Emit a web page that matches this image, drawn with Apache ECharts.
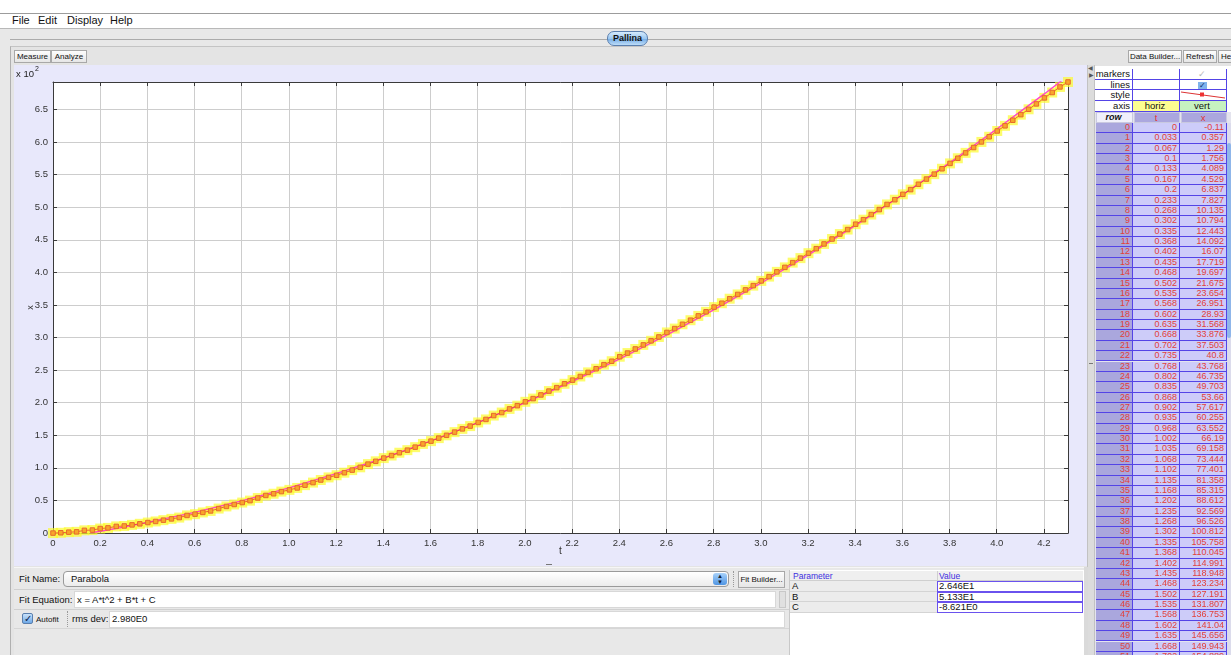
<!DOCTYPE html>
<html>
<head>
<meta charset="utf-8">
<script src="https://cdn.jsdelivr.net/npm/echarts@6/dist/echarts.min.js"></script>
<style>
body{margin:0;width:1231px;height:655px;overflow:hidden;background:#e8e8e8;font-family:"Liberation Sans",Arial,sans-serif;position:relative;color:#111}
.a{position:absolute;box-sizing:border-box}
.btn{position:absolute;box-sizing:border-box;height:13px;border:1px solid #a8a8a8;background:linear-gradient(#fdfdfd,#e6e6e6);font-size:8px;line-height:11px;text-align:center;white-space:nowrap;overflow:hidden}
.menu{position:absolute;top:14px;font-size:11px;line-height:13px}
.lbl{position:absolute;font-size:9.5px;line-height:12px;white-space:nowrap}
.cell{position:absolute;box-sizing:border-box;height:100%;top:0;font-size:9px;text-align:right;padding-right:2px;white-space:nowrap;overflow:hidden}
</style>
</head>
<body>
<!-- top strip and menu -->
<div class="a" style="left:0;top:0;width:1231px;height:14px;background:#fff;border-bottom:1px solid #9c9c9c"></div>
<div class="a" style="left:0;top:14px;width:1231px;height:15px;background:#fff;border-bottom:1px solid #b8b8b8"></div>
<div class="menu" style="left:12px">File</div>
<div class="menu" style="left:38px">Edit</div>
<div class="menu" style="left:67px">Display</div>
<div class="menu" style="left:110px">Help</div>
<div class="a" style="left:10px;top:39px;width:1221px;height:1px;background:#ababab"></div>
<div class="a" style="left:607px;top:31px;width:41px;height:15px;border:1px solid #5b7fae;border-radius:7px;background:linear-gradient(#d6ebfd,#9cc8f1 50%,#74ace6 52%,#bcdcf8);font-size:9px;font-weight:bold;line-height:13px;text-align:center">Pallina</div>
<!-- panel frame -->
<div class="a" style="left:10px;top:46px;width:1221px;height:609px;border-left:1px solid #b0b0b0;border-top:1px solid #c4c4c4;background:#e4e4e4"></div>
<div class="btn" style="left:14px;top:50px;width:37px">Measure</div>
<div class="btn" style="left:51px;top:50px;width:36px">Analyze</div>
<div class="btn" style="left:1128px;top:50px;width:54px">Data Builder...</div>
<div class="btn" style="left:1183px;top:50px;width:34px">Refresh</div>
<div class="btn" style="left:1218px;top:50px;width:20px;text-align:left;padding-left:2px">Help</div>
<!-- plot -->
<div id="plot" class="a" style="left:14px;top:65px;width:1073px;height:501px;background:#e8e8fb"></div>
<div class="a" style="left:546px;top:564px;width:6px;height:1px;background:#777"></div>
<!-- splitter -->
<div class="a" style="left:1087px;top:65px;width:8px;height:590px;background:#dcdcdc;border-left:1px solid #c2c2c2;border-right:1px solid #c2c2c2"></div>
<div class="a" style="left:1088px;top:64px;font-size:6px;color:#555">&#9664;</div>
<div class="a" style="left:1089px;top:71px;font-size:6px;color:#555">&#9654;</div>
<div class="a" style="left:1089px;top:363px;width:4px;height:1px;background:#777"></div>
<!-- right top property table -->
<div id="props" class="a" style="left:1095px;top:66px;width:136px;height:46px;background:#fff"></div>
<div id="rt" class="a" style="left:1095px;top:112px;width:136px;height:543px;overflow:hidden;background:#e4e4ee"></div>
<!-- bottom fit panel -->
<div class="a" style="left:14px;top:567px;width:1073px;height:88px;background:#e8e8e8;border-top:1px solid #f6f6f6"></div>
<div class="lbl" style="left:19px;top:573px">Fit Name:</div>
<div class="a" style="left:63px;top:571px;width:666px;height:16px;border:1px solid #9a9a9a;border-radius:4px;background:linear-gradient(#ffffff,#ececec)"></div>
<div class="lbl" style="left:71px;top:573px">Parabola</div>
<div class="a" style="left:713px;top:573px;width:14px;height:12px;border-radius:3px;background:linear-gradient(#a9d2fa,#4f95e3);font-size:6px;color:#123;text-align:center;line-height:6px">&#9650;<br>&#9660;</div>
<div class="a" style="left:733px;top:571px;width:1px;height:16px;border-left:1px dotted #999"></div>
<div class="btn" style="left:738px;top:571px;width:47px;height:17px;line-height:15px;font-size:8px">Fit Builder...</div>
<div class="a" style="left:14px;top:589px;width:775px;height:1px;background:#d0d0d0"></div>
<div class="lbl" style="left:19px;top:594px">Fit Equation:</div>
<div class="a" style="left:74px;top:591px;width:702px;height:17px;background:#fff;border:1px solid #d8d8d8"></div>
<div class="lbl" style="left:77px;top:594px">x = A*t^2 + B*t + C</div>
<div class="a" style="left:779px;top:591px;width:7px;height:17px;background:#e0e0e0;border:1px solid #c8c8c8"></div>
<div class="a" style="left:14px;top:609px;width:775px;height:1px;background:#d0d0d0"></div>
<div class="a" style="left:22px;top:613px;width:11px;height:11px;border:1px solid #5a7fae;border-radius:2px;background:linear-gradient(#c9e2fb,#6ea8e6);font-size:10px;line-height:9px;color:#0a1a4a;text-align:center">&#10003;</div>
<div class="lbl" style="left:36px;top:614px;font-size:8px">Autofit</div>
<div class="a" style="left:67px;top:611px;width:1px;height:16px;border-left:1px dotted #999"></div>
<div class="lbl" style="left:72px;top:613px">rms dev:</div>
<div class="a" style="left:109px;top:611px;width:676px;height:17px;background:#fff;border:1px solid #d8d8d8"></div>
<div class="lbl" style="left:112px;top:613px">2.980E0</div>
<div class="a" style="left:14px;top:628px;width:775px;height:1px;background:#d6d6d6"></div>
<!-- parameter table -->
<div class="a" style="left:789px;top:570px;width:295px;height:85px;background:#fff;border-left:1px solid #c8c8c8"></div>
<div class="a" style="left:790px;top:571px;width:293px;height:10px;background:#efefef;border-bottom:1px solid #cfcfcf"></div>
<div class="a" style="left:937px;top:571px;width:1px;height:10px;background:#cfcfcf"></div>
<div class="lbl" style="left:793px;top:570px;font-size:8.5px;color:#3b2ee0">Parameter</div>
<div class="lbl" style="left:939px;top:570px;font-size:8.5px;color:#3b2ee0">Value</div>
<div id="params"></div>
<div class="a" style="left:1084px;top:567px;width:4px;height:88px;background:#dadada"></div>

<script>
// fit parameters shown in the panel
var paramNames = ['A', 'B', 'C'];
var paramValues = ['2.646E1', '5.133E1', '-8.621E0'];

// measured points (row, t, x)
var tVals = [0, 0.033, 0.067, 0.1, 0.133, 0.167, 0.2, 0.233, 0.268, 0.302,
    0.335, 0.368, 0.402, 0.435, 0.468, 0.502, 0.535, 0.568, 0.602, 0.635,
    0.668, 0.702, 0.735, 0.768, 0.802, 0.835, 0.868, 0.902, 0.935, 0.968,
    1.002, 1.035, 1.068, 1.102, 1.135, 1.168, 1.202, 1.235, 1.268, 1.302,
    1.335, 1.368, 1.402, 1.435, 1.468, 1.502, 1.535, 1.568, 1.602, 1.635,
    1.668, 1.702, 1.735, 1.768, 1.802, 1.835, 1.868, 1.902, 1.935, 1.968,
    2.002, 2.035, 2.068, 2.102, 2.135, 2.168, 2.202, 2.235, 2.268, 2.302,
    2.335, 2.368, 2.402, 2.435, 2.468, 2.502, 2.535, 2.568, 2.602, 2.635,
    2.668, 2.702, 2.735, 2.768, 2.802, 2.835, 2.868, 2.902, 2.935, 2.968,
    3.002, 3.035, 3.068, 3.102, 3.135, 3.168, 3.202, 3.235, 3.268, 3.302,
    3.335, 3.368, 3.402, 3.435, 3.468, 3.502, 3.535, 3.568, 3.602, 3.635,
    3.668, 3.702, 3.735, 3.768, 3.802, 3.835, 3.868, 3.902, 3.935, 3.968,
    4.002, 4.035, 4.068, 4.102, 4.135, 4.168, 4.202, 4.235, 4.268, 4.302];
var xVals = [-0.11, 0.357, 1.29, 1.756, 4.089, 4.529, 6.837, 7.827, 10.135, 10.794,
    12.443, 14.092, 16.07, 17.719, 19.697, 21.675, 23.654, 26.951, 28.93, 31.568,
    33.876, 37.503, 40.8, 43.768, 46.735, 49.703, 53.66, 57.617, 60.255, 63.552,
    66.19, 69.158, 73.444, 77.401, 81.358, 85.315, 88.612, 92.569, 96.526, 100.812,
    105.758, 110.045, 114.991, 118.948, 123.234, 127.191, 131.807, 136.753, 141.04, 145.656,
    149.943, 154.889, 159.835, 164.122, 169.727, 174.343, 180.279, 184.896, 190.501, 195.447,
    201.382, 206.328, 211.934, 217.869, 223.145, 229.08, 234.685, 240.291, 246.556, 252.162,
    258.427, 263.703, 270.628, 276.233, 282.498, 288.763, 295.028, 300.963, 307.888, 313.823,
    320.418, 326.683, 333.277, 339.542, 346.797, 352.732, 359.656, 366.251, 373.175, 379.77,
    387.024, 393.619, 400.873, 407.798, 415.052, 421.977, 429.561, 436.485, 443.739, 451.323,
    458.907, 465.832, 474.075, 481, 488.914, 496.498, 504.412, 511.666, 519.909, 527.163,
    535.406, 543.32, 550.905, 559.148, 567.391, 575.305, 583.548, 591.792, 600.365, 608.279,
    617.182, 625.096, 633.669, 642.242, 650.486, 658.729, 667.961, 676.204, 684.777, 692.361];

// fitted curve
var fitT = [0.16, 0.2, 0.3, 0.4, 0.6, 0.8, 1.0, 1.2, 1.4, 1.6, 1.8, 2.0, 2.2, 2.4,
    2.6, 2.8, 3.0, 3.2, 3.4, 3.6, 3.8, 4.0, 4.2, 4.302];
var fitX = [0.27, 2.7, 9.16, 16.14, 31.7, 49.38, 69.17, 91.08, 115.1, 141.25, 169.5, 199.88, 232.37, 266.98,
    303.71, 342.55, 383.51, 426.59, 471.78, 519.09, 568.51, 620.06, 673.72, 701.9];

var pts = tVals.map(function(t, i) { return [t, xVals[i]]; });
var fitPts = fitT.map(function(t, i) { return [t, fitX[i]]; });

var tMax = tVals[tVals.length - 1];
var xMax = xVals[xVals.length - 1];

function tLabel(v) {
    if (Math.abs(v / 0.2 - Math.round(v / 0.2)) > 1e-6) return '';
    return v === 0 ? '0' : v.toFixed(1);
}
function xLabel(v) {
    if (Math.abs(v / 50 - Math.round(v / 50)) > 1e-6) return '';
    return v === 0 ? '0' : (v / 100).toFixed(1);
}

var axisCol = '#3a3a3a';
var font = 'Liberation Sans';
var myChart = echarts.init(document.getElementById('plot'));
var option = {
    animation: false,
    grid: { left: 39, right: 19, top: 17, bottom: 33, containLabel: false, outerBoundsMode: 'none',
        backgroundColor: '#fff', show: true, borderWidth: 0 },
    graphic: [
        { type: 'text', left: 2, top: 4, style: { text: 'x 10', fontSize: 9.5, fill: '#222', fontFamily: font } },
        { type: 'text', left: 21, top: 1, style: { text: '2', fontSize: 7, fill: '#222', fontFamily: font } }
    ],
    xAxis: [{
        type: 'value', min: 0, max: tMax, interval: 0.2,
        name: 't', nameLocation: 'middle', nameGap: 13, nameMoveOverlap: false,
        nameTextStyle: { fontSize: 10, color: '#333', fontFamily: font },
        axisLine: { show: true, onZero: false, lineStyle: { color: axisCol } },
        axisTick: { show: true, inside: true, length: 4, lineStyle: { color: axisCol } },
        axisLabel: { fontSize: 9.5, color: '#333', margin: 5, fontFamily: font, formatter: tLabel },
        splitLine: { show: true, lineStyle: { color: '#cdcdcd' } }
    }, {
        type: 'value', position: 'top', min: 0, max: tMax, interval: 0.2,
        axisLine: { show: true, onZero: false, lineStyle: { color: axisCol } },
        axisTick: { show: true, inside: true, length: 4, lineStyle: { color: axisCol } },
        axisLabel: { show: false }, splitLine: { show: false }
    }],
    yAxis: [{
        type: 'value', min: 0, max: xMax, interval: 50,
        name: 'x', nameLocation: 'middle', nameGap: 18, nameMoveOverlap: false,
        nameTextStyle: { fontSize: 9, color: '#333', fontFamily: font },
        axisLine: { show: true, onZero: false, lineStyle: { color: axisCol } },
        axisTick: { show: true, inside: true, length: 4, lineStyle: { color: axisCol } },
        axisLabel: { fontSize: 9.5, color: '#333', margin: 5, fontFamily: font, formatter: xLabel },
        splitLine: { show: true, lineStyle: { color: '#cdcdcd' } }
    }, {
        type: 'value', position: 'right', min: 0, max: xMax, interval: 50,
        axisLine: { show: true, onZero: false, lineStyle: { color: axisCol } },
        axisTick: { show: true, inside: true, length: 4, lineStyle: { color: axisCol } },
        axisLabel: { show: false }, splitLine: { show: false }
    }],
    series: [{
        // selected-point highlight
        type: 'scatter', data: pts, symbol: 'rect', symbolSize: 10, clip: false,
        itemStyle: { color: 'rgba(252,250,40,0.85)' }, z: 2
    }, {
        type: 'line', data: fitPts, showSymbol: false, symbol: 'none', clip: true,
        lineStyle: { color: '#ff3fd0', width: 1.3 }, z: 3
    }, {
        type: 'line', data: pts, symbol: 'rect', symbolSize: 4.5, showAllSymbol: true, clip: false,
        itemStyle: { color: '#f7a62a', borderColor: '#e8682c', borderWidth: 1 },
        lineStyle: { color: '#e5402e', width: 0.8 }, z: 4
    }]
};
myChart.setOption(option);

// property table on the right
var lineCol = '#5444e6';
var props = document.getElementById('props');
var propRows = ['markers', 'lines', 'style', 'axis'];
var ph = '';
propRows.forEach(function(name, i) {
    var y0 = 3 + i * 10.7;
    ph += '<div class="a" style="left:0;top:' + y0 + 'px;width:132px;height:10.7px;border-bottom:1px solid ' + lineCol + '">';
    ph += '<div class="cell" style="left:0;width:38px;border-right:1px solid ' + lineCol + ';color:#111;font-size:9.5px;line-height:10px">' + name + '</div>';
    var c2 = '', c3 = '', bg2 = '#fff', bg3 = '#fff';
    if (name === 'markers') c3 = '<span style="color:#b8b8b8;font-size:9px">&#10003;</span>';
    if (name === 'lines') c3 = '<span style="display:inline-block;width:9px;height:8px;background:#7fb3ec;color:#0b2a6a;font-size:8px;line-height:8px;text-align:center">&#10003;</span>';
    if (name === 'style') c3 = '<svg width="46" height="10" style="position:absolute;left:0;top:0"><line x1="1" y1="2" x2="45" y2="8" stroke="#d33" stroke-width="1"/><rect x="20" y="2.5" width="4" height="4" fill="#e33"/></svg>';
    if (name === 'axis') { c2 = 'horiz'; c3 = 'vert'; bg2 = '#fdfd90'; bg3 = '#c6f2c0'; }
    ph += '<div class="cell" style="left:38px;width:47px;border-right:1px solid ' + lineCol + ';background:' + bg2 + ';text-align:center;font-size:9.5px;line-height:10px">' + c2 + '</div>';
    ph += '<div class="cell" style="left:85px;width:47px;border-right:1px solid ' + lineCol + ';background:' + bg3 + ';text-align:center;font-size:9.5px;line-height:10px">' + c3 + '</div>';
    ph += '</div>';
});
props.innerHTML = ph;

// data table on the right, rows drawn from the same arrays
var rt = document.getElementById('rt');
var rowH = 10.37;
var h = '';
h += '<div class="a" style="left:1px;top:0;width:132px;height:11px">';
h += '<div class="cell" style="left:0;width:37px;background:#f0f0fb;border:1px solid #c9c9e0;text-align:center;font-style:italic;font-weight:bold;font-size:9px;line-height:9px">row</div>';
h += '<div class="cell" style="left:38px;width:46px;background:#aba7de;border:1px solid #c9c9e0;text-align:center;color:#e03535;font-size:9.5px;line-height:9px">t</div>';
h += '<div class="cell" style="left:85px;width:46px;background:#aba7de;border:1px solid #c9c9e0;text-align:center;color:#e03535;font-size:9.5px;line-height:9px">x</div>';
h += '</div>';
for (var i = 0; i < tVals.length; i++) {
    var rowTop = 11 + i * rowH;
    if (rowTop > 560) break;
    h += '<div class="a" style="left:1px;top:' + rowTop + 'px;width:131px;height:' + rowH + 'px;border-bottom:1px solid ' + lineCol + ';color:#e2403a;line-height:9.5px">';
    h += '<div class="cell" style="left:0;width:37px;background:#aaa7dd;border-right:1px solid ' + lineCol + '">' + i + '</div>';
    h += '<div class="cell" style="left:37px;width:47px;background:#cdccf9;border-right:1px solid ' + lineCol + '">' + tVals[i] + '</div>';
    h += '<div class="cell" style="left:84px;width:47px;background:#cdccf9;border-right:1px solid ' + lineCol + '">' + xVals[i] + '</div>';
    h += '</div>';
}
h += '<div class="a" style="left:132px;top:11px;width:4px;height:540px;background:#dcdcec"></div>';
h += '<div class="a" style="left:132px;top:31px;width:4px;height:195px;background:#8fb6ea;border-radius:2px"></div>';
rt.innerHTML = h;

// fit parameter rows
var pp = '';
paramNames.forEach(function(p, i) {
    var y0 = 581 + i * 10.7;
    pp += '<div class="a" style="left:790px;top:' + y0 + 'px;width:147px;height:10.7px;background:#ececec;border-bottom:1px solid #d4d4d4"></div>';
    pp += '<div class="lbl" style="left:792px;top:' + (y0 - 1) + 'px">' + p + '</div>';
    pp += '<div class="a" style="left:937px;top:' + y0 + 'px;width:146px;height:10.7px;background:#fff;border:1px solid #6a52ee"></div>';
    pp += '<div class="lbl" style="left:939px;top:' + (y0 - 1) + 'px">' + paramValues[i] + '</div>';
});
document.getElementById('params').innerHTML = pp;

window.addEventListener('resize', function() {
    if (myChart != null) myChart.resize();
});
</script>
</body>
</html>
